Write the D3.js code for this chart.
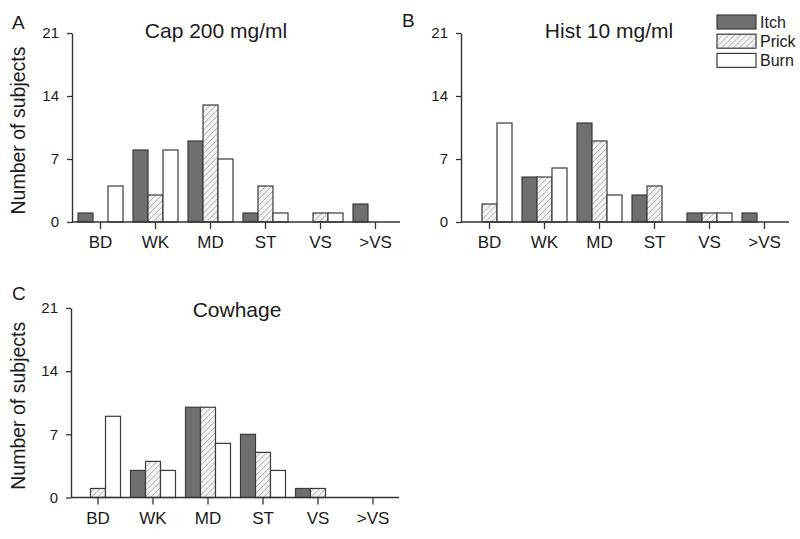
<!DOCTYPE html>
<html>
<head>
<meta charset="utf-8">
<script src="https://cdn.jsdelivr.net/npm/d3@7"></script>
<style>
  html, body { margin: 0; padding: 0; background: #ffffff; }
  svg { display: block; font-family: "Liberation Sans", Arial, sans-serif; }
</style>
</head>
<body>
<svg id="chart" width="800" height="539"></svg>
<script>
// ---- data ----
const categories = ["BD", "WK", "MD", "ST", "VS", ">VS"];
const seriesNames = ["Itch", "Prick", "Burn"];
const yTickValues = [0, 7, 14, 21];

const capItch  = [1, 8, 9, 1, 0, 2];
const capPrick = [0, 3, 13, 4, 1, 0];
const capBurn  = [4, 8, 7, 1, 1, 0];

const histItch  = [0, 5, 11, 3, 1, 1];
const histPrick = [2, 5, 9, 4, 1, 0];
const histBurn  = [11, 6, 3, 0, 1, 0];

const cowItch  = [0, 3, 10, 7, 1, 0];
const cowPrick = [1, 4, 10, 5, 1, 0];
const cowBurn  = [9, 3, 6, 3, 0, 0];

const panelLetters = ["A", "B", "C"];
const panelTitles = ["Cap 200 mg/ml", "Hist 10 mg/ml", "Cowhage"];
const yTitle = "Number of subjects";

// ---- layout / style ----
const panels = [
  { letter: panelLetters[0], title: panelTitles[0], vals: [capItch, capPrick, capBurn],
    axisX: 72, x0: 73, yTop: 33, yBot: 222, titleX: 216, titleY: 38, letterX: 12, letterY: 29, yTitle: true },
  { letter: panelLetters[1], title: panelTitles[1], vals: [histItch, histPrick, histBurn],
    axisX: 461, x0: 462, yTop: 33, yBot: 222, titleX: 609, titleY: 38, letterX: 402, letterY: 27, yTitle: false },
  { letter: panelLetters[2], title: panelTitles[2], vals: [cowItch, cowPrick, cowBurn],
    axisX: 71, x0: 70.5, yTop: 308, yBot: 497.5, titleX: 237, titleY: 317, letterX: 12, letterY: 300, yTitle: true }
];

const fills = { Itch: "#6f6f6f", Prick: "url(#hatch)", Burn: "#ffffff" };
const barStroke = "#3a3a3a";
const axisColor = "#333333";
const textColor = "#1a1a1a";

const svg = d3.select("#chart");

// hatch pattern
const defs = svg.append("defs");
const pat = defs.append("pattern")
  .attr("id", "hatch")
  .attr("patternUnits", "userSpaceOnUse")
  .attr("width", 4.2).attr("height", 4.2)
  .attr("patternTransform", "rotate(45)");
pat.append("rect").attr("width", 4.2).attr("height", 4.2).attr("fill", "#f3f3f3");
pat.append("line").attr("x1", 0).attr("y1", 0).attr("x2", 0).attr("y2", 4.2)
  .attr("stroke", "#b3b3b3").attr("stroke-width", 1.6);

panels.forEach(p => {
  const g = svg.append("g");

  const x = d3.scaleBand()
    .domain(categories)
    .range([p.x0, p.x0 + 330])
    .paddingInner(10 / 55)
    .paddingOuter(5 / 55);

  const xs = d3.scaleBand()
    .domain(seriesNames)
    .range([0, x.bandwidth()]);

  const y = d3.scaleLinear()
    .domain([0, 21])
    .range([p.yBot, p.yTop]);

  // bars
  seriesNames.forEach((s, si) => {
    const data = categories.map((c, ci) => ({ c, v: p.vals[si][ci] })).filter(d => d.v > 0);
    g.selectAll(null)
      .data(data)
      .enter().append("rect")
      .attr("x", d => x(d.c) + xs(s))
      .attr("y", d => y(d.v))
      .attr("width", xs.bandwidth())
      .attr("height", d => y(0) - y(d.v))
      .attr("fill", fills[s])
      .attr("stroke", barStroke)
      .attr("stroke-width", 1.2);
  });

  // y axis
  const yAxis = g.append("g")
    .attr("transform", `translate(${p.axisX},0)`)
    .call(d3.axisLeft(y).tickValues(yTickValues).tickSize(5).tickSizeOuter(0).tickPadding(8));
  yAxis.select(".domain").attr("stroke", axisColor).attr("stroke-width", 1.4);
  yAxis.selectAll(".tick line").attr("stroke", axisColor).attr("stroke-width", 1.3);
  yAxis.selectAll(".tick text")
    .attr("fill", textColor)
    .style("font-size", "15px")
    .style("font-family", "'Liberation Sans', Arial, sans-serif");

  // x axis
  const xAxis = g.append("g")
    .attr("transform", `translate(0,${y(0)})`)
    .call(d3.axisBottom(x).tickSize(7).tickSizeOuter(0).tickPadding(7));
  xAxis.select(".domain").remove();
  xAxis.append("line")
    .attr("x1", p.axisX).attr("x2", p.axisX + 328)
    .attr("y1", 0).attr("y2", 0)
    .attr("stroke", axisColor).attr("stroke-width", 1.4);
  xAxis.selectAll(".tick line").attr("stroke", axisColor).attr("stroke-width", 1.3);
  xAxis.selectAll(".tick text")
    .attr("fill", textColor)
    .style("font-size", "17px")
    .style("font-family", "'Liberation Sans', Arial, sans-serif");

  // title
  g.append("text")
    .attr("x", p.titleX).attr("y", p.titleY)
    .attr("text-anchor", "middle")
    .attr("fill", textColor)
    .style("font-size", "21px")
    .text(p.title);

  // panel letter
  g.append("text")
    .attr("x", p.letterX).attr("y", p.letterY)
    .attr("fill", textColor)
    .style("font-size", "19px")
    .text(p.letter);

  // y axis title
  if (p.yTitle) {
    g.append("text")
      .attr("transform", `translate(25,${(p.yTop + p.yBot) / 2 + 3}) rotate(-90)`)
      .attr("text-anchor", "middle")
      .attr("fill", textColor)
      .style("font-size", "19.5px")
      .text(yTitle);
  }
});

// legend
const legend = svg.append("g").attr("transform", "translate(717,15)");
seriesNames.forEach((s, i) => {
  const row = legend.append("g").attr("transform", `translate(0,${i * 19.2})`);
  row.append("rect")
    .attr("width", 39).attr("height", 14)
    .attr("fill", fills[s])
    .attr("stroke", barStroke)
    .attr("stroke-width", 1.2);
  row.append("text")
    .attr("x", 43).attr("y", 13)
    .attr("fill", textColor)
    .style("font-size", "16px")
    .text(s);
});
</script>
</body>
</html>
